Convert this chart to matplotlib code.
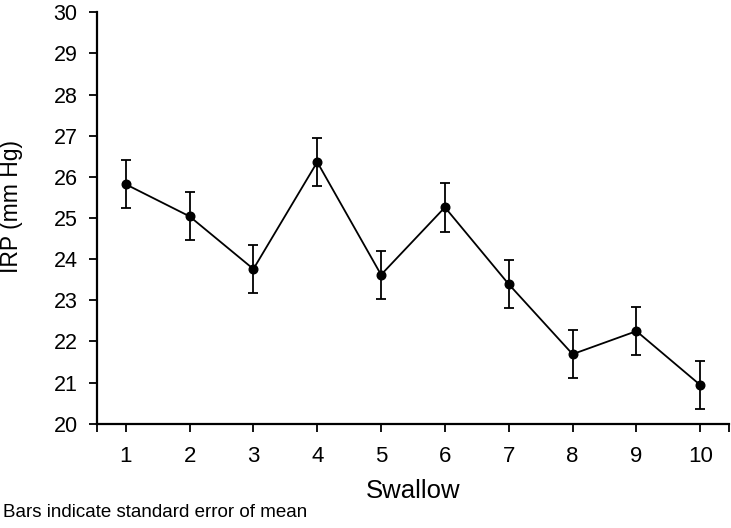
import matplotlib
matplotlib.use("Agg")
import matplotlib.pyplot as plt

# IRP per swallow, mean +/- standard error
swallow = [1, 2, 3, 4, 5, 6, 7, 8, 9, 10]
irp_mean = [25.82, 25.04, 23.76, 26.36, 23.62, 25.26, 23.39, 21.69, 22.25, 20.94]
irp_sem = [0.58, 0.58, 0.58, 0.58, 0.58, 0.59, 0.58, 0.58, 0.58, 0.59]
yticks = list(range(20, 31))

plt.rcParams['font.family'] = ['Liberation Sans', 'DejaVu Sans']

W, H = 731, 528
fig = plt.figure(figsize=(W / 100, H / 100), dpi=100)
ax = fig.add_axes([97 / W, 1 - 423.7 / H, (729 - 97) / W, (423.7 - 12.3) / H])

ax.errorbar(swallow, irp_mean, yerr=irp_sem, color='black', lw=1.3,
            marker='o', ms=6.2, capsize=3.3, elinewidth=1.3, capthick=1.3)

ax.set_xlim(0.55, 10.45)
ax.set_ylim(20, 30)
ax.set_xticks(swallow)
ax.set_xticks([0.55, 10.45], minor=True)
ax.set_yticks(yticks)

for s in ['top', 'right']:
    ax.spines[s].set_visible(False)
for s in ['left', 'bottom']:
    ax.spines[s].set_linewidth(1.6)

ax.tick_params(axis='both', which='both', direction='out', length=6, width=1.3)
ax.tick_params(axis='x', labelsize=16, pad=10)
ax.tick_params(axis='y', labelsize=15.5, pad=8)

ax.set_xlabel('Swallow', fontsize=18.5, labelpad=9)
ax.set_ylabel('IRP (mm Hg)', fontsize=16.5)
ax.yaxis.set_label_coords(-0.117, 0.527)

fig.text(3 / W, 1 - 517 / H, 'Bars indicate standard error of mean',
         fontsize=13.5, va='baseline', ha='left')

fig.savefig('out.png', dpi=100)
